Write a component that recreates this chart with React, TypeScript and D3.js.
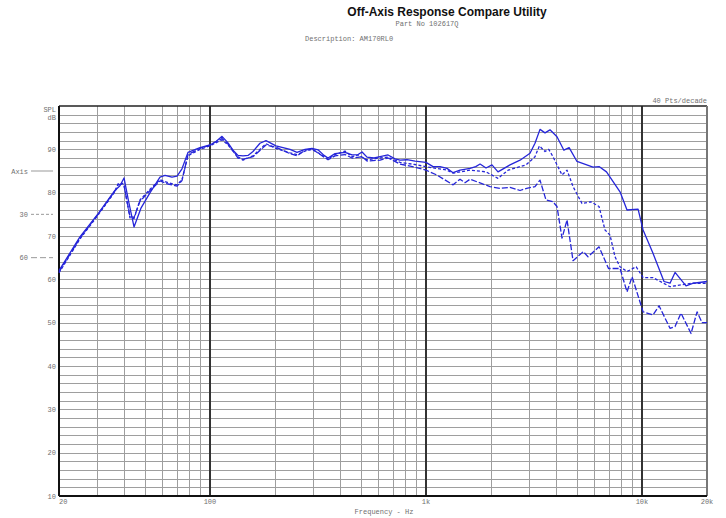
import React from 'react';
import * as d3 from 'd3';

// frequency (Hz) / SPL (dB) readings per curve
const axisFreq = [20, 25, 30.3, 36.3, 38.3, 40, 42, 44.5, 48, 52.8, 58.7, 61.9, 66.7, 70.4, 74.2, 79.1, 89.9, 100, 106.7, 113.7, 121.2, 127.8, 134.8, 142.2, 150, 158.2, 170.4, 181.7, 202, 234.7, 252.9, 275.5, 296.8, 316.4, 337.3, 352, 379.1, 421.9, 454.6, 484.8, 505.9, 533.4, 574.9, 612.8, 667.5, 719, 758.4, 817.3, 890, 1000, 1078, 1161, 1251, 1335, 1438, 1599, 1700, 1780, 1897, 2021, 2155, 2449, 2725, 3031, 3197, 3372, 3557, 3751, 4042, 4350, 4600, 5002, 5935, 6350, 6850, 7913, 8527, 9592, 10118, 11247, 12648, 13482, 14225, 15992, 17300, 20000];
const axisDb = [62.0, 69.8, 75.1, 80.5, 81.6, 83.4, 78.0, 72.1, 76.5, 80.0, 83.6, 84.0, 83.6, 83.8, 85.5, 89.3, 90.4, 91.0, 91.8, 93.0, 91.5, 89.8, 88.6, 88.5, 88.6, 89.5, 91.4, 92.0, 90.8, 90.0, 89.3, 90.0, 90.2, 89.9, 88.6, 88.0, 89.0, 89.3, 88.7, 88.8, 89.4, 88.2, 88.0, 88.3, 88.7, 87.8, 87.5, 87.6, 87.3, 87.0, 86.0, 86.0, 85.6, 84.6, 85.2, 85.6, 86.0, 86.6, 85.7, 86.4, 84.8, 86.4, 87.5, 89.1, 91.4, 94.6, 93.8, 94.5, 92.9, 89.8, 90.4, 87.2, 85.9, 86.0, 84.8, 80.2, 76.0, 76.2, 71.4, 66.0, 59.5, 59.1, 61.6, 58.5, 59.1, 59.5];

const off30Freq = [20, 25, 30.3, 36.3, 37.5, 39.2, 40, 42.6, 44.5, 47.4, 52.8, 58.7, 63.9, 70.4, 74.2, 79.1, 89.9, 100, 113.7, 121.2, 134.8, 142.2, 158.2, 181.7, 202, 234.7, 252.9, 275.5, 296.8, 337.3, 352, 379.1, 421.9, 454.6, 484.8, 533.4, 612.8, 667.5, 758.4, 890, 1000, 1251, 1335, 1599, 1897, 2155, 2400, 2905, 3197, 3350, 3557, 3700, 3873, 4264, 4498, 4796, 5277, 5800, 6325, 6743, 7112, 7503, 7913, 8527, 9400, 10118, 11247, 13482, 16873, 20000];
const off30Db = [61.5, 69.3, 74.8, 80.2, 82.0, 82.2, 81.8, 74.2, 74.0, 78.3, 80.8, 83.0, 82.3, 81.8, 83.0, 88.5, 90.0, 90.8, 92.2, 91.0, 88.3, 87.5, 88.5, 91.3, 90.2, 89.2, 88.8, 89.6, 90.0, 88.4, 87.7, 88.8, 89.6, 88.3, 88.7, 87.6, 88.0, 88.2, 87.0, 86.5, 86.0, 85.2, 84.5, 85.2, 84.8, 83.3, 85.2, 86.4, 88.3, 90.8, 89.5, 90.0, 88.3, 84.1, 85.2, 81.4, 77.5, 77.9, 76.8, 71.4, 70.2, 65.2, 62.9, 61.8, 62.9, 60.4, 60.4, 58.3, 59.1, 59.1];

const off60Freq = [20, 25, 30.3, 36.3, 37.5, 39.2, 40, 42.6, 44.5, 47.4, 52.8, 58.7, 63.9, 70.4, 74.2, 79.1, 89.9, 100, 113.7, 121.2, 134.8, 142.2, 158.2, 181.7, 202, 234.7, 252.9, 275.5, 296.8, 337.3, 352, 379.1, 421.9, 454.6, 505.9, 533.4, 612.8, 667.5, 758.4, 890, 1000, 1121, 1335, 1438, 1516, 1599, 1979, 2201, 2449, 2725, 2925, 3197, 3372, 3595, 3873, 4042, 4264, 4498, 4796, 5350, 5625, 6325, 7000, 7913, 8527, 9000, 10118, 11247, 11998, 13482, 14225, 15160, 16873, 17990, 18977, 20000];
const off60Db = [61.7, 69.5, 75.0, 80.4, 81.8, 82.0, 81.6, 74.5, 74.3, 78.0, 80.5, 82.7, 82.0, 81.5, 82.8, 88.8, 90.2, 91.0, 92.5, 91.2, 88.0, 87.7, 88.3, 91.0, 90.5, 89.0, 88.5, 89.8, 90.1, 88.2, 87.6, 88.5, 88.8, 88.0, 88.3, 87.3, 87.5, 88.0, 86.6, 85.9, 85.2, 84.1, 81.8, 83.1, 82.3, 83.1, 81.4, 81.0, 81.2, 80.5, 81.0, 81.4, 82.9, 78.3, 77.9, 76.8, 69.5, 73.7, 64.3, 66.4, 65.2, 67.5, 62.5, 62.5, 57.1, 60.6, 52.5, 51.8, 53.9, 48.7, 49.1, 52.2, 47.5, 52.5, 50.0, 50.0];

const minorFreqs = [30, 40, 50, 60, 70, 80, 90, 200, 300, 400, 500, 600, 700, 800, 900, 2000, 3000, 4000, 5000, 6000, 7000, 8000, 9000];
const decadeFreqs = [100, 1000, 10000];
const xTicks = [
  { f: 20, label: '20' },
  { f: 100, label: '100' },
  { f: 1000, label: '1k' },
  { f: 10000, label: '10k' },
  { f: 20000, label: '20k' },
];
const yTicks = [90, 80, 70, 60, 50, 40, 30, 20, 10];

const legend = [
  { label: 'Axis', db: 85, dash: '' },
  { label: '30', db: 75, dash: '3,2' },
  { label: '60', db: 65, dash: '6,3' },
];

const W = 726;
const H = 518;
const margin = { top: 106, right: 19, bottom: 22, left: 59 };
const mono = '"Liberation Mono", "DejaVu Sans Mono", monospace';
const blue = '#2626d9';
const labelGrey = '#707070';

export default function App() {
  const x = d3.scaleLog().domain([20, 20000]).range([margin.left, W - margin.right]);
  const y = d3.scaleLinear().domain([10, 100]).range([H - margin.bottom, margin.top]);

  const line = d3.line<[number, number]>()
    .x(d => x(d[0]))
    .y(d => y(d[1]));

  const series = [
    { freq: axisFreq, db: axisDb, dash: '' },
    { freq: off30Freq, db: off30Db, dash: '3,2' },
    { freq: off60Freq, db: off60Db, dash: '6,2' },
  ];

  const hLines = d3.range(12, 100, 2);
  const x0 = x(20), x1 = x(20000), y0 = y(10), y1 = y(100);

  return (
    <svg width={W} height={H} style={{ position: 'absolute', left: 0, top: 0, background: '#fff' }}>
      {/* title block */}
      <text x={447} y={16} textAnchor="middle" fontFamily='"Liberation Sans", Arial, sans-serif'
        fontWeight="bold" fontSize={12} fill="#111">Off-Axis Response Compare Utility</text>
      <text x={427} y={26} textAnchor="middle" fontFamily={mono} fontSize={7} fill={labelGrey}>Part No 102617Q</text>
      <text x={305} y={41} fontFamily={mono} fontSize={7} fill={labelGrey}>Description: AM170RL0</text>
      <text x={x1} y={103} textAnchor="end" fontFamily={mono} fontSize={7} fill={labelGrey}>40 Pts/decade</text>

      {/* grid */}
      {hLines.map(d => (
        <line key={'h' + d} x1={x0} x2={x1} y1={Math.round(y(d)) + 0.5} y2={Math.round(y(d)) + 0.5}
          stroke="#9e9e9e" strokeWidth={1} />
      ))}
      {minorFreqs.map(f => (
        <line key={'v' + f} x1={Math.round(x(f)) + 0.5} x2={Math.round(x(f)) + 0.5} y1={y1} y2={y0}
          stroke="#9e9e9e" strokeWidth={1} />
      ))}
      {decadeFreqs.map(f => (
        <line key={'d' + f} x1={Math.round(x(f))} x2={Math.round(x(f))} y1={y1} y2={y0}
          stroke="#333" strokeWidth={2} />
      ))}

      {/* frame */}
      <line x1={x0} x2={x1} y1={y1} y2={y1} stroke="#222" strokeWidth={1.5} />
      <line x1={x1} x2={x1} y1={y1} y2={y0} stroke="#777" strokeWidth={2} />
      <line x1={x0} x2={x0} y1={y1} y2={y0} stroke="#111" strokeWidth={2} />
      <line x1={x0} x2={x1} y1={y0} y2={y0} stroke="#111" strokeWidth={2} />

      {/* y labels */}
      <text x={56} y={112} textAnchor="end" fontFamily={mono} fontSize={7} fill={labelGrey}>SPL</text>
      <text x={56} y={120} textAnchor="end" fontFamily={mono} fontSize={7} fill={labelGrey}>dB</text>
      {yTicks.map(t => (
        <text key={'yt' + t} x={56} y={y(t) + 2.5} textAnchor="end" fontFamily={mono} fontSize={7} fill={labelGrey}>{t}</text>
      ))}

      {/* legend */}
      {legend.map(l => (
        <g key={l.label}>
          <text x={28} y={y(l.db) + 2.5} textAnchor="end" fontFamily={mono} fontSize={7} fill={labelGrey}>{l.label}</text>
          <line x1={31} x2={53} y1={y(l.db)} y2={y(l.db)} stroke="#999" strokeWidth={1}
            strokeDasharray={l.dash || undefined} />
        </g>
      ))}

      {/* x labels */}
      {xTicks.map(t => (
        <text key={'xt' + t.f} x={x(t.f)} y={504} textAnchor={t.f === 20 ? 'start' : 'middle'}
          fontFamily={mono} fontSize={7} fill={labelGrey}>{t.label}</text>
      ))}
      <text x={384} y={514} textAnchor="middle" fontFamily={mono} fontSize={7} fill={labelGrey}>Frequency - Hz</text>

      {/* curves */}
      {series.map((s, i) => (
        <path key={'s' + i}
          d={line(s.freq.map((f, j) => [f, s.db[j]] as [number, number])) || ''}
          fill="none" stroke={blue} strokeWidth={1.3} strokeDasharray={s.dash || undefined}
          strokeLinejoin="round" />
      ))}
    </svg>
  );
}
